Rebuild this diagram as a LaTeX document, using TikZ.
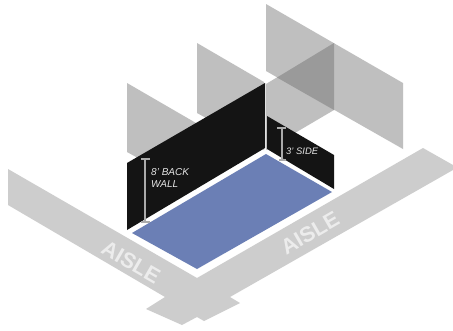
\documentclass[tikz,border=0pt]{standalone}
\usepackage{fontspec}
\setmainfont{Liberation Sans}
\definecolor{aislegray}{HTML}{CDCDCD}
\definecolor{aisletext}{HTML}{ECECEC}
\definecolor{panelgray}{HTML}{BFBFBF}
\definecolor{overlapgray}{HTML}{9A9A9A}
\definecolor{wallblack}{HTML}{141414}
\definecolor{floorblue}{HTML}{6B7FB5}
\definecolor{beamgray}{HTML}{ABABAB}
\tikzset{
  aisle/.style={fill=aislegray,draw=none},
  panel/.style={fill=panelgray,draw=none},
  wall/.style={fill=wallblack,draw=none},
  beam/.style={draw=beamgray,line width=1.2pt},
  aisletag/.style={text=aisletext,font=\bfseries\fontsize{21.5}{21.5}\selectfont,inner sep=0pt},
  walltag/.style={text=white!90!black,font=\itshape\fontsize{10}{12}\selectfont,inner sep=0pt,align=left,anchor=north west},
}
\begin{document}
\begin{tikzpicture}[x=1pt,y=-1pt]
\useasboundingbox (0,0) rectangle (453,330);
\fill[white] (0,0) rectangle (453,330);
% aisles
\path[aisle] (8,169) -- (197,278) -- (423,148) -- (453,165) -- (453,170) -- (230,297) -- (240,303) -- (204,321) -- (197,317) -- (182,325) -- (146,309) -- (165,297) -- (8,205) -- cycle;
% panels
\path[panel] (127,83) -- (196,123) -- (196,190) -- (127,152) -- cycle;
\path[panel] (197,43) -- (264,82) -- (264,150) -- (197,113) -- cycle;
\path[panel] (266,4) -- (403,83) -- (403,149) -- (266,71) -- cycle;
\path[panel] (266,84) -- (334,43) -- (334,110) -- (266,150) -- cycle;
\path[fill=overlapgray] (277,77.5) -- (334,43) -- (334,110) -- cycle;
% walls
\path[wall] (127,163) -- (265,83) -- (265,148) -- (127,230) -- cycle;
\path[wall] (267,116) -- (334,155) -- (334,189) -- (267,149) -- cycle;
% floor
\path[fill=floorblue] (266,154) -- (332,192) -- (197,269) -- (132,233) -- cycle;
% dimension marks
\draw[beam] (145,159) -- (145,222) (141,159) -- (150,159) (141,222) -- (150,222);
\draw[beam] (282,128) -- (282,160) (277,128) -- (286,128) (279,160) -- (286,160);
% labels
\node[walltag] (backlabel) at (151,168.5) {8' BACK\\WALL};
\node[walltag,font=\itshape\fontsize{9.4}{11}\selectfont] (sidelabel) at (286,147.5) {3' SIDE};
\node[aisletag,rotate=-30] (aisleleft) at (131,262) {AISLE};
\node[aisletag,rotate=30] (aisleright) at (310,233) {AISLE};
\end{tikzpicture}
\end{document}
